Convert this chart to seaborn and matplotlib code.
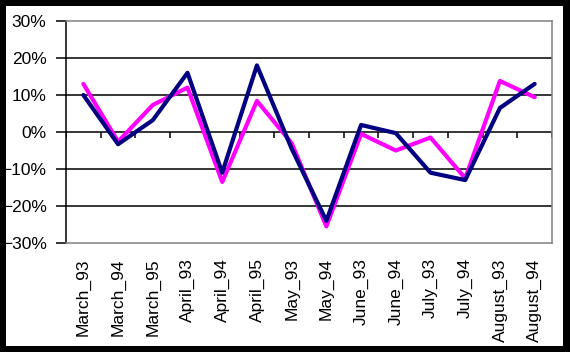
import numpy as np
import matplotlib
matplotlib.use("Agg")
import matplotlib.pyplot as plt
import pandas as pd
import seaborn as sns
from matplotlib.patches import Rectangle
from matplotlib.ticker import PercentFormatter

# DATA
months = ['March_93', 'March_94', 'March_95', 'April_93', 'April_94', 'April_95',
          'May_93', 'May_94', 'June_93', 'June_94', 'July_93', 'July_94',
          'August_93', 'August_94']
navy_vals = [0.10, -0.033, 0.032, 0.16, -0.11, 0.18, -0.045, -0.24,
             0.019, -0.003, -0.11, -0.13, 0.065, 0.13]
magenta_vals = [0.13, -0.026, 0.073, 0.12, -0.135, 0.084, -0.03, -0.255,
                -0.005, -0.05, -0.015, -0.125, 0.138, 0.094]
y_ticks = [-0.3, -0.2, -0.1, 0.0, 0.1, 0.2, 0.3]

df = pd.DataFrame({'month': months, 'navy': navy_vals, 'magenta': magenta_vals})
df['pos'] = np.arange(len(months))

sns.set_style('white')
plt.rcParams['font.family'] = ['Liberation Sans', 'DejaVu Sans']

W, H = 570, 352
fig = plt.figure(figsize=(W / 100, H / 100), dpi=100)
fig.patch.set_facecolor('black')
bg = Rectangle((6 / W, 1 - 346 / H), 557 / W, 340 / H,
               transform=fig.transFigure, facecolor='white',
               edgecolor='none', zorder=-10)
fig.patches.append(bg)

ax = fig.add_axes([66 / W, 1 - 243 / H, 486 / W, 222 / H])
ax.set_zorder(5)
ax.set_facecolor('none')

# gridlines
for t in y_ticks[1:-1]:
    ax.axhline(t, color='black', lw=1.1, zorder=1)

sns.lineplot(data=df, x='pos', y='magenta', color='#FF00FF', lw=3, ax=ax, zorder=3)
sns.lineplot(data=df, x='pos', y='navy', color='#000080', lw=3, ax=ax, zorder=4)

n = len(months)
ax.set_xlim(-0.5, n - 0.5)
ax.set_ylim(-0.3, 0.3)

# category boundary ticks along the zero line
ax.vlines(np.arange(n + 1) - 0.5, -0.015, 0, color='black', lw=1.1, zorder=2)

ax.set_yticks(y_ticks)
ax.yaxis.set_major_formatter(PercentFormatter(1.0, decimals=0))
ax.set_xticks(df['pos'])
ax.set_xticklabels(months, rotation=90)
ax.tick_params(axis='y', left=True, length=7, width=1.1, color='black',
               pad=7, labelsize=12.5, labelcolor='black')
ax.tick_params(axis='x', bottom=False, length=0, pad=11, labelsize=12.5,
               labelcolor='black')
ax.set_xlabel('')
ax.set_ylabel('')

for side in ['top', 'right', 'bottom']:
    ax.spines[side].set_color('#808080')
    ax.spines[side].set_linewidth(1.1)
ax.spines['left'].set_color('black')
ax.spines['left'].set_linewidth(1.1)
for s in ax.spines.values():
    s.set_visible(True)

fig.savefig('out.png', dpi=100, facecolor=fig.get_facecolor())
